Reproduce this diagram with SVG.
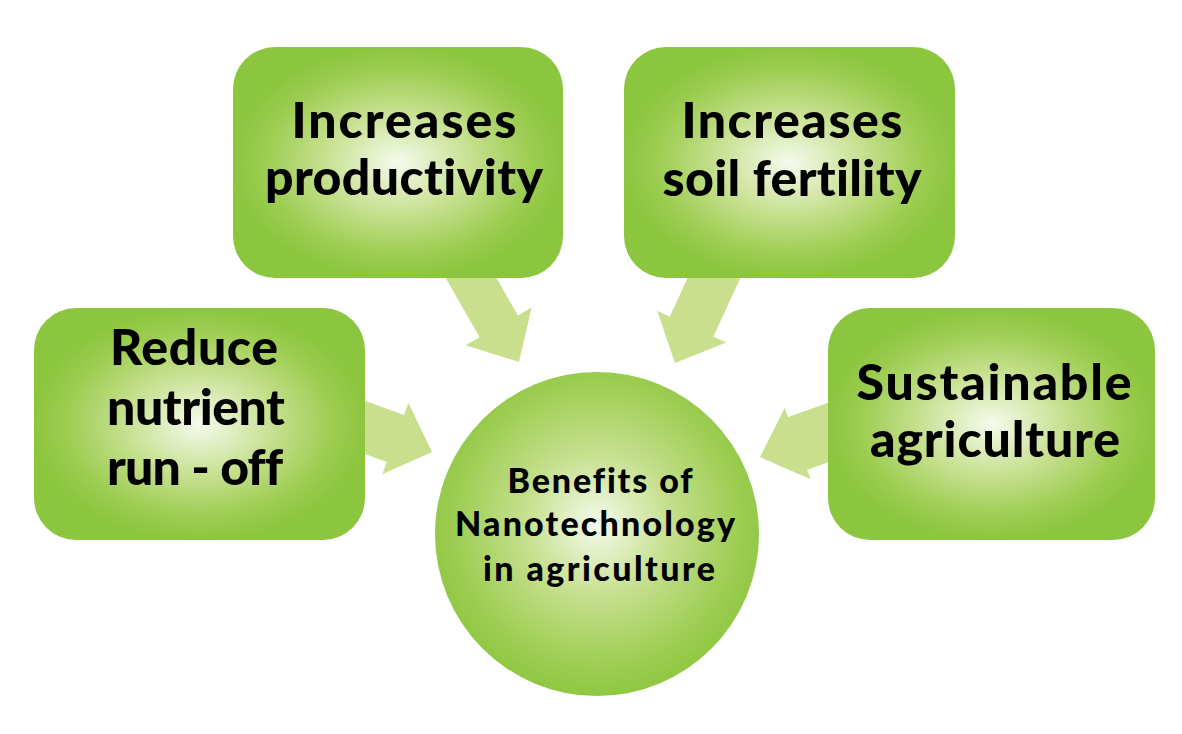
<svg xmlns="http://www.w3.org/2000/svg" width="1182" height="734" viewBox="0 0 1182 734">
  <defs>
    <radialGradient id="g" cx="0.5" cy="0.5" r="0.5">
      <stop offset="0" stop-color="#f5faec"/>
      <stop offset="0.45" stop-color="#c6e08f"/>
      <stop offset="0.8" stop-color="#9dcd52"/>
      <stop offset="1" stop-color="#8cc63f"/>
    </radialGradient>
    <radialGradient id="gc" cx="0.5" cy="0.47" r="0.55">
      <stop offset="0" stop-color="#f5faec"/>
      <stop offset="0.4" stop-color="#c6e08f"/>
      <stop offset="0.8" stop-color="#9dcd52"/>
      <stop offset="1" stop-color="#8cc63f"/>
    </radialGradient>
  </defs>
  <style>
    .box { fill: url(#g); }
    .arrow { fill: #c9df8e; }
    .t { font-family: "Lato", "Liberation Sans", sans-serif; font-weight: 900; fill: #000; text-anchor: middle; font-size: 50px; font-variant-ligatures: none; }
    .tc { font-family: "Lato", "Liberation Sans", sans-serif; font-weight: 900; fill: #000; text-anchor: middle; font-size: 34px; font-variant-ligatures: none; }
  </style>
  <rect width="1182" height="734" fill="#ffffff"/>
  <g id="connectors">
    <polygon class="arrow" transform="translate(519,362) rotate(60.3)" points="-120,-22 -41,-22 -41,-38 0,0 -41,38 -41,22 -120,22"/>
    <polygon class="arrow" transform="translate(675,363) rotate(114.6)" points="-118,-24 -40,-24 -40,-38 0,0 -40,38 -40,24 -118,24"/>
    <polygon class="arrow" transform="translate(432,452) rotate(20.1)" points="-95,-25 -39,-25 -39,-38 0,0 -39,38 -39,25 -95,25"/>
    <polygon class="arrow" transform="translate(760,457) rotate(160.2)" points="-95,-28 -40,-28 -40,-38 0,0 -40,38 -40,28 -95,28"/>
  </g>
  <g id="node-productivity">
    <rect class="box" x="233" y="47" width="330" height="231" rx="42"/>
    <text class="t" x="404" y="138" textLength="225" lengthAdjust="spacing">Increases</text>
    <text class="t" x="404" y="195" textLength="278" lengthAdjust="spacing">productivity</text>
  </g>
  <g id="node-fertility">
    <rect class="box" x="624" y="47" width="331" height="231" rx="42"/>
    <text class="t" x="792" y="138" textLength="221" lengthAdjust="spacing">Increases</text>
    <text class="t" x="792" y="196" textLength="259" lengthAdjust="spacing">soil fertility</text>
  </g>
  <g id="node-runoff">
    <rect class="box" x="34" y="308" width="331" height="232" rx="42"/>
    <text class="t" x="194" y="365" textLength="168" lengthAdjust="spacing">Reduce</text>
    <text class="t" x="196" y="425" textLength="178" lengthAdjust="spacing">nutrient</text>
    <text class="t" x="195" y="485" textLength="176" lengthAdjust="spacing">run - off</text>
  </g>
  <g id="node-sustainable">
    <rect class="box" x="828" y="308" width="327" height="232" rx="42"/>
    <text class="t" x="994" y="400" textLength="275" lengthAdjust="spacing">Sustainable</text>
    <text class="t" x="995" y="457" textLength="250" lengthAdjust="spacing">agriculture</text>
  </g>
  <g id="node-center">
    <circle cx="597" cy="534" r="162" fill="url(#gc)"/>
    <text class="tc" x="600" y="493" textLength="185" lengthAdjust="spacing">Benefits of</text>
    <text class="tc" x="595" y="536" textLength="280" lengthAdjust="spacing">Nanotechnology</text>
    <text class="tc" x="599" y="581" textLength="232" lengthAdjust="spacing">in agriculture</text>
  </g>
</svg>
